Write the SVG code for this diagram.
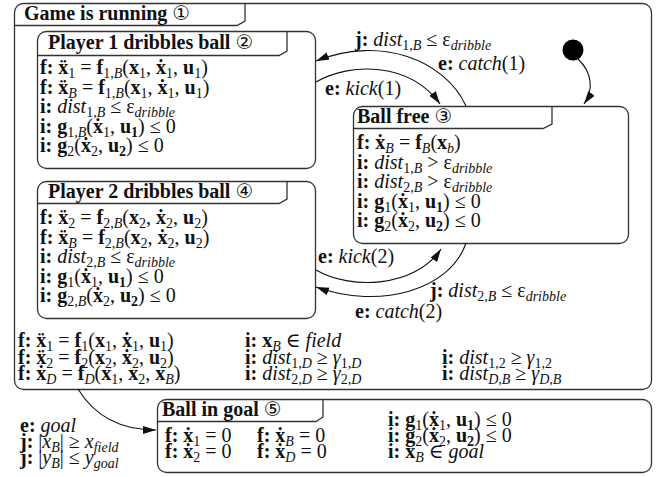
<svg xmlns="http://www.w3.org/2000/svg" width="669" height="477" viewBox="0 0 669 477">
<style>
text{font-family:"Liberation Serif","DejaVu Serif",serif;font-size:20px;fill:#111}
.h{font-weight:bold}
.b{font-weight:bold}
.i{font-style:italic}
.s{font-size:14px;baseline-shift:-4px}
.c{font-family:"DejaVu Sans",sans-serif;font-size:20px;font-weight:normal}
.box{fill:#fff;stroke:#333;stroke-width:1.3}
.tab{fill:none;stroke:#333;stroke-width:1.3}
.edge{fill:none;stroke:#111;stroke-width:1.1}
</style>
<defs>
<marker id="ah" markerUnits="userSpaceOnUse" markerWidth="14" markerHeight="10" refX="13" refY="4" orient="auto">
<path d="M0,0 L13,4 L0,8 z" fill="#111"/>
</marker>
</defs>

<g id="game">
<rect class="box" x="14.5" y="3.5" width="637" height="386" rx="9"/>
<path class="tab" d="M14.5,25.5 H237 L245,21 V3.5"/>
<text x="24" y="20" class="h">Game is running <tspan class="c">①</tspan></text>
<text x="18" y="347"><tspan class="b">f:</tspan> <tspan class="b">ẍ</tspan><tspan class="s">1</tspan> = <tspan class="b">f</tspan><tspan class="s">1</tspan>(<tspan class="b">x</tspan><tspan class="s">1</tspan>, <tspan class="b">ẋ</tspan><tspan class="s">1</tspan>, <tspan class="b">u</tspan><tspan class="s">1</tspan>)</text>
<text x="18" y="363.5"><tspan class="b">f:</tspan> <tspan class="b">ẍ</tspan><tspan class="s">2</tspan> = <tspan class="b">f</tspan><tspan class="s">2</tspan>(<tspan class="b">x</tspan><tspan class="s">2</tspan>, <tspan class="b">ẋ</tspan><tspan class="s">2</tspan>, <tspan class="b">u</tspan><tspan class="s">2</tspan>)</text>
<text x="18" y="380"><tspan class="b">f:</tspan> <tspan class="b">ẋ</tspan><tspan class="s i">D</tspan> = <tspan class="b">f</tspan><tspan class="s i">D</tspan>(<tspan class="b">x</tspan><tspan class="s">1</tspan>, <tspan class="b">x</tspan><tspan class="s">2</tspan>, <tspan class="b">x</tspan><tspan class="s i">B</tspan>)</text>
<text x="245" y="347"><tspan class="b">i:</tspan> <tspan class="b">x</tspan><tspan class="s i">B</tspan> ∈ <tspan class="i">field</tspan></text>
<text x="245" y="363.5"><tspan class="b">i:</tspan> <tspan class="i">dist</tspan><tspan class="s">1,<tspan class="i">D</tspan></tspan> ≥ <tspan class="i">γ</tspan><tspan class="s">1,<tspan class="i">D</tspan></tspan></text>
<text x="245" y="380"><tspan class="b">i:</tspan> <tspan class="i">dist</tspan><tspan class="s">2,<tspan class="i">D</tspan></tspan> ≥ <tspan class="i">γ</tspan><tspan class="s">2,<tspan class="i">D</tspan></tspan></text>
<text x="442" y="363.5"><tspan class="b">i:</tspan> <tspan class="i">dist</tspan><tspan class="s">1,2</tspan> ≥ <tspan class="i">γ</tspan><tspan class="s">1,2</tspan></text>
<text x="442" y="380"><tspan class="b">i:</tspan> <tspan class="i">dist</tspan><tspan class="s i">D,B</tspan> ≥ <tspan class="i">γ</tspan><tspan class="s i">D,B</tspan></text>
</g>

<g id="p1">
<rect class="box" x="37.5" y="31.5" width="278" height="137" rx="9"/>
<path class="tab" d="M37.5,55.5 H279 L287,51 V31.5"/>
<text x="48" y="49" class="h">Player 1 dribbles ball <tspan class="c">②</tspan></text>
<text x="40" y="74"><tspan class="b">f:</tspan> <tspan class="b">ẍ</tspan><tspan class="s">1</tspan> = <tspan class="b">f</tspan><tspan class="s">1,<tspan class="i">B</tspan></tspan>(<tspan class="b">x</tspan><tspan class="s">1</tspan>, <tspan class="b">ẋ</tspan><tspan class="s">1</tspan>, <tspan class="b">u</tspan><tspan class="s">1</tspan>)</text>
<text x="40" y="93.5"><tspan class="b">f:</tspan> <tspan class="b">ẍ</tspan><tspan class="s i">B</tspan> = <tspan class="b">f</tspan><tspan class="s">1,<tspan class="i">B</tspan></tspan>(<tspan class="b">x</tspan><tspan class="s">1</tspan>, <tspan class="b">ẋ</tspan><tspan class="s">1</tspan>, <tspan class="b">u</tspan><tspan class="s">1</tspan>)</text>
<text x="40" y="113"><tspan class="b">i:</tspan> <tspan class="i">dist</tspan><tspan class="s">1,<tspan class="i">B</tspan></tspan> ≤ ε<tspan class="s i">dribble</tspan></text>
<text x="40" y="132.5"><tspan class="b">i:</tspan> <tspan class="b">g</tspan><tspan class="s">1,<tspan class="i">B</tspan></tspan>(<tspan class="b">ẋ</tspan><tspan class="s">1</tspan>, <tspan class="b">u</tspan><tspan class="s b">1</tspan>) ≤ 0</text>
<text x="40" y="152"><tspan class="b">i:</tspan> <tspan class="b">g</tspan><tspan class="s">2</tspan>(<tspan class="b">ẋ</tspan><tspan class="s">2</tspan>, <tspan class="b">u</tspan><tspan class="s b">2</tspan>) ≤ 0</text>
</g>

<g id="p2">
<rect class="box" x="37.5" y="181.5" width="278" height="137" rx="9"/>
<path class="tab" d="M37.5,203.5 H279 L287,199 V181.5"/>
<text x="48" y="198" class="h">Player 2 dribbles ball <tspan class="c">④</tspan></text>
<text x="40" y="224"><tspan class="b">f:</tspan> <tspan class="b">ẍ</tspan><tspan class="s">2</tspan> = <tspan class="b">f</tspan><tspan class="s">2,<tspan class="i">B</tspan></tspan>(<tspan class="b">x</tspan><tspan class="s">2</tspan>, <tspan class="b">ẋ</tspan><tspan class="s">2</tspan>, <tspan class="b">u</tspan><tspan class="s">2</tspan>)</text>
<text x="40" y="243.5"><tspan class="b">f:</tspan> <tspan class="b">ẍ</tspan><tspan class="s i">B</tspan> = <tspan class="b">f</tspan><tspan class="s">2,<tspan class="i">B</tspan></tspan>(<tspan class="b">x</tspan><tspan class="s">2</tspan>, <tspan class="b">ẋ</tspan><tspan class="s">2</tspan>, <tspan class="b">u</tspan><tspan class="s">2</tspan>)</text>
<text x="40" y="263"><tspan class="b">i:</tspan> <tspan class="i">dist</tspan><tspan class="s">2,<tspan class="i">B</tspan></tspan> ≤ ε<tspan class="s i">dribble</tspan></text>
<text x="40" y="282.5"><tspan class="b">i:</tspan> <tspan class="b">g</tspan><tspan class="s">1</tspan>(<tspan class="b">ẋ</tspan><tspan class="s">1</tspan>, <tspan class="b">u</tspan><tspan class="s b">1</tspan>) ≤ 0</text>
<text x="40" y="302"><tspan class="b">i:</tspan> <tspan class="b">g</tspan><tspan class="s">2,<tspan class="i">B</tspan></tspan>(<tspan class="b">ẋ</tspan><tspan class="s">2</tspan>, <tspan class="b">u</tspan><tspan class="s b">2</tspan>) ≤ 0</text>
</g>

<g id="free">
<rect class="box" x="353.5" y="106.5" width="275" height="137" rx="9"/>
<path class="tab" d="M353.5,128.5 H543 L552,124 V106.5"/>
<text x="357" y="123" class="h">Ball free <tspan class="c">③</tspan></text>
<text x="357" y="149"><tspan class="b">f:</tspan> <tspan class="b">ẋ</tspan><tspan class="s i">B</tspan> = <tspan class="b">f</tspan><tspan class="s i">B</tspan>(<tspan class="b">x</tspan><tspan class="s i">b</tspan>)</text>
<text x="357" y="168.5"><tspan class="b">i:</tspan> <tspan class="i">dist</tspan><tspan class="s">1,<tspan class="i">B</tspan></tspan> &gt; ε<tspan class="s i">dribble</tspan></text>
<text x="357" y="188"><tspan class="b">i:</tspan> <tspan class="i">dist</tspan><tspan class="s">2,<tspan class="i">B</tspan></tspan> &gt; ε<tspan class="s i">dribble</tspan></text>
<text x="357" y="207.5"><tspan class="b">i:</tspan> <tspan class="b">g</tspan><tspan class="s">1</tspan>(<tspan class="b">ẋ</tspan><tspan class="s">1</tspan>, <tspan class="b">u</tspan><tspan class="s b">1</tspan>) ≤ 0</text>
<text x="357" y="227"><tspan class="b">i:</tspan> <tspan class="b">g</tspan><tspan class="s">2</tspan>(<tspan class="b">ẋ</tspan><tspan class="s">2</tspan>, <tspan class="b">u</tspan><tspan class="s b">2</tspan>) ≤ 0</text>
</g>

<g id="init">
<circle cx="573" cy="50" r="10.5" fill="#000"/>
</g>

<g id="goal">
<rect class="box" x="157.5" y="399.5" width="494" height="73" rx="9"/>
<path class="tab" d="M157.5,421.5 H316 L323,417 V399.5"/>
<text x="162" y="416" class="h">Ball in goal <tspan class="c">⑤</tspan></text>
<text x="165" y="442"><tspan class="b">f:</tspan> <tspan class="b">ẋ</tspan><tspan class="s">1</tspan> = 0</text>
<text x="165" y="458"><tspan class="b">f:</tspan> <tspan class="b">ẋ</tspan><tspan class="s">2</tspan> = 0</text>
<text x="257" y="442"><tspan class="b">f:</tspan> <tspan class="b">ẋ</tspan><tspan class="s i">B</tspan> = 0</text>
<text x="257" y="458"><tspan class="b">f:</tspan> <tspan class="b">ẋ</tspan><tspan class="s i">D</tspan> = 0</text>
<text x="388" y="426"><tspan class="b">i:</tspan> <tspan class="b">g</tspan><tspan class="s">1</tspan>(<tspan class="b">ẋ</tspan><tspan class="s">1</tspan>, <tspan class="b">u</tspan><tspan class="s b">1</tspan>) ≤ 0</text>
<text x="388" y="442"><tspan class="b">i:</tspan> <tspan class="b">g</tspan><tspan class="s">2</tspan>(<tspan class="b">ẋ</tspan><tspan class="s">2</tspan>, <tspan class="b">u</tspan><tspan class="s b">2</tspan>) ≤ 0</text>
<text x="388" y="458"><tspan class="b">i:</tspan> <tspan class="b">x</tspan><tspan class="s i">B</tspan> ∈ <tspan class="i">goal</tspan></text>
</g>

<g id="connectors">
<path class="edge" d="M578,59 C592,72 594,90 584,104" marker-end="url(#ah)"/>
<path class="edge" d="M466,106 C445,60 380,35 316,61" marker-end="url(#ah)"/>
<path class="edge" d="M316,82 C350,62 410,62 440,104" marker-end="url(#ah)"/>
<path class="edge" d="M316,270 C350,290 415,288 441,249" marker-end="url(#ah)"/>
<path class="edge" d="M466,243 C450,290 380,310 316,287" marker-end="url(#ah)"/>
<path class="edge" d="M78,389 C92,412 115,430 156,430" marker-end="url(#ah)"/>
<text x="355" y="46"><tspan class="b">j:</tspan> <tspan class="i">dist</tspan><tspan class="s">1,<tspan class="i">B</tspan></tspan> ≤ ε<tspan class="s i">dribble</tspan></text>
<text x="438" y="70"><tspan class="b">e:</tspan> <tspan class="i">catch</tspan>(1)</text>
<text x="325" y="95"><tspan class="b">e:</tspan> <tspan class="i">kick</tspan>(1)</text>
<text x="318" y="263"><tspan class="b">e:</tspan> <tspan class="i">kick</tspan>(2)</text>
<text x="430" y="297"><tspan class="b">j:</tspan> <tspan class="i">dist</tspan><tspan class="s">2,<tspan class="i">B</tspan></tspan> ≤ ε<tspan class="s i">dribble</tspan></text>
<text x="355" y="318"><tspan class="b">e:</tspan> <tspan class="i">catch</tspan>(2)</text>
<text x="20" y="432"><tspan class="b">e:</tspan> <tspan class="i">goal</tspan></text>
<text x="20" y="448"><tspan class="b">j:</tspan> |<tspan class="i">x</tspan><tspan class="s i">B</tspan>| ≥ <tspan class="i">x</tspan><tspan class="s i">field</tspan></text>
<text x="20" y="464"><tspan class="b">j:</tspan> |<tspan class="i">y</tspan><tspan class="s i">B</tspan>| ≤ <tspan class="i">y</tspan><tspan class="s i">goal</tspan></text>
</g>
</svg>
